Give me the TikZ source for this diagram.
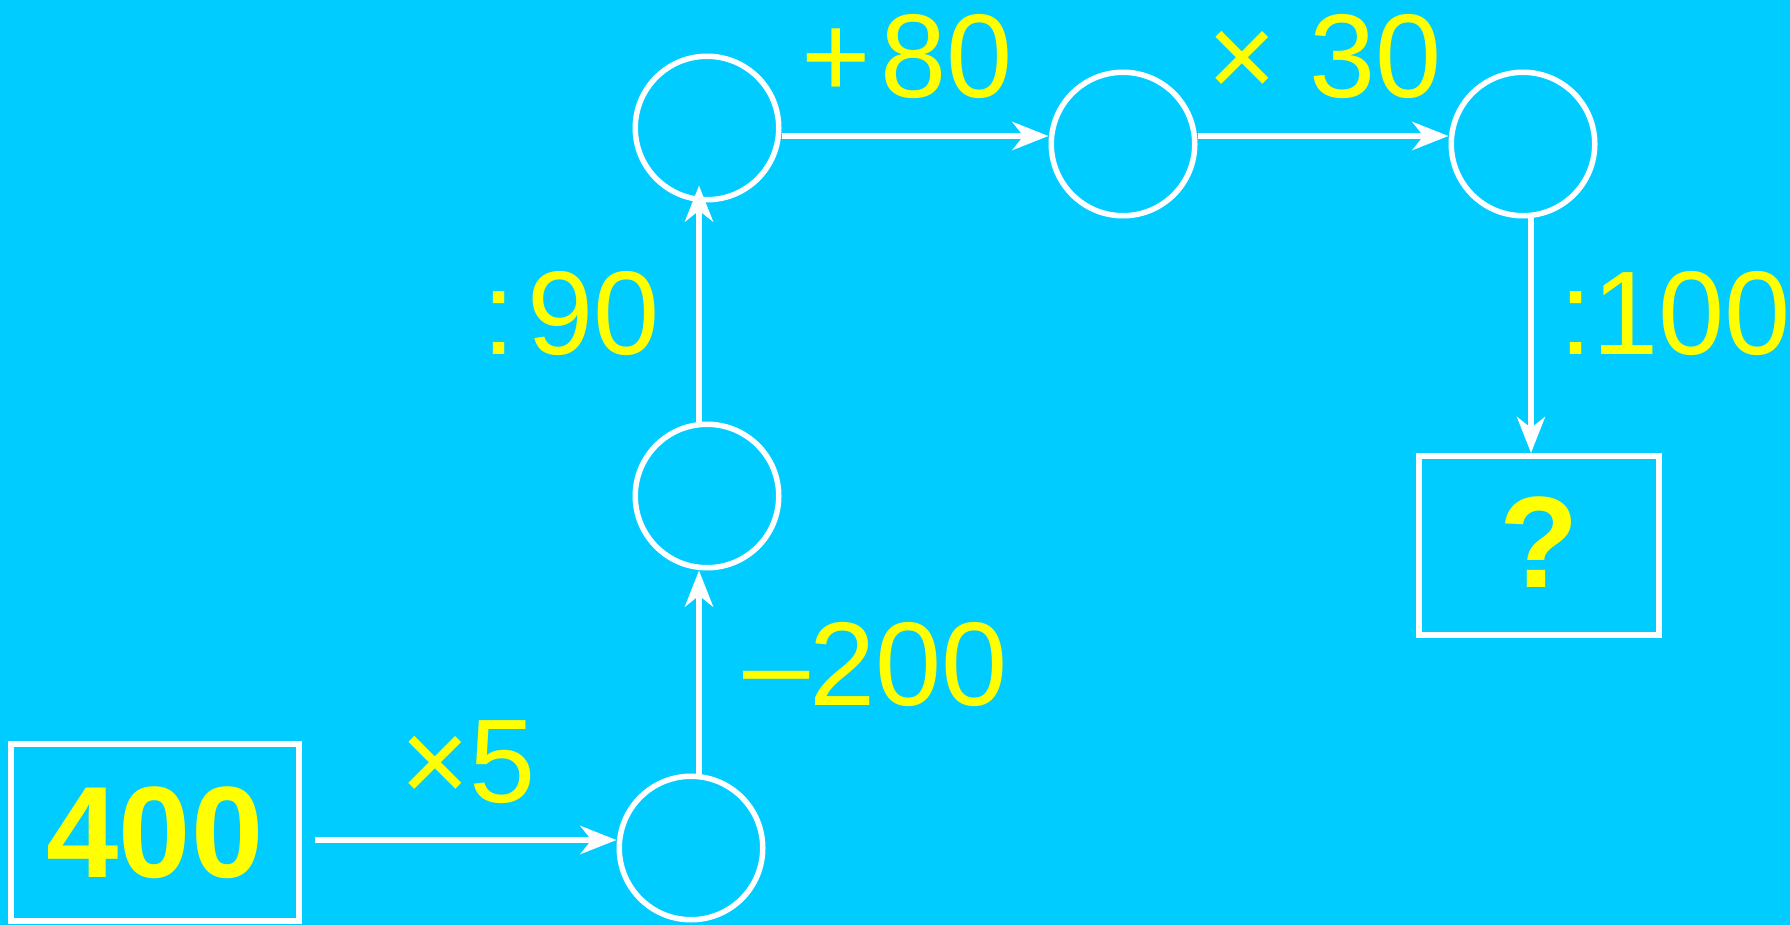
\documentclass[tikz,border=0pt]{standalone}
\usepackage{fontspec}
\setmainfont{Liberation Sans}
\usetikzlibrary{arrows.meta}
\definecolor{bg}{HTML}{00CCFF}
\definecolor{ylw}{HTML}{FFFF00}
\begin{document}
\begin{tikzpicture}[x=1pt,y=-1pt,
  every node/.style={inner sep=0pt},
  circ/.style={circle, draw=white, line width=5.5pt, minimum size=143.5pt},
  valbox/.style={rectangle, draw=white, line width=6pt, text=ylw,
    font=\fontsize{130}{130}\selectfont\bfseries},
  lbl/.style={text=ylw, font=\fontsize{119}{119}\selectfont, anchor=base west},
  arr/.style={draw=white, line width=6pt,
    -{Stealth[length=36pt,width=28pt,inset=11pt]}}
]
\fill[bg] (0,0) rectangle (1790,925);
\useasboundingbox (0,0) rectangle (1790,925);

% value boxes
\node[valbox, minimum width=288pt, minimum height=177pt,
      text height=89pt, text depth=0pt] (start) at (155,832.5) {400};
\node[valbox, minimum width=240pt, minimum height=179pt,
      text height=83pt, text depth=0pt] (result) at (1539,545.5) {?};

% empty circles
\node[circ] (A) at (691,848) {};
\node[circ] (B) at (707,496) {};
\node[circ] (C) at (707,128) {};
\node[circ] (D) at (1123,144) {};
\node[circ] (E) at (1523,144) {};

% guide coordinates for the connectors
\coordinate (row) at (0,840);
\coordinate (vx) at (699,0);
\coordinate (hy) at (0,136);
\coordinate (ex) at (1531,0);

% connectors
\draw[arr] ([xshift=13pt]start.east |- row) -- (A.west |- row);
\draw[arr] (A.north -| vx) -- (B.south -| vx);
\draw[arr, shorten >=-17pt] (B.north -| vx) -- (C.south -| vx);
\draw[arr] (C.east |- hy) -- (D.west |- hy);
\draw[arr] (D.east |- hy) -- (E.west |- hy);
\draw[arr] (E.south -| ex) -- (result.north -| ex);

% operation labels
\node[lbl] (l1) at (400,802) {×5};
\node[lbl] (l2) at (743,705) {–200};
\node[lbl] (l3) at (482,354) {:\kern12pt 90};
\node[lbl] (l4) at (801,98) {+\kern10pt 80};
\node[lbl] (l5) at (1207,98) {× 30};
\node[lbl] (l6) at (1559,354) {:100};
\end{tikzpicture}
\end{document}
